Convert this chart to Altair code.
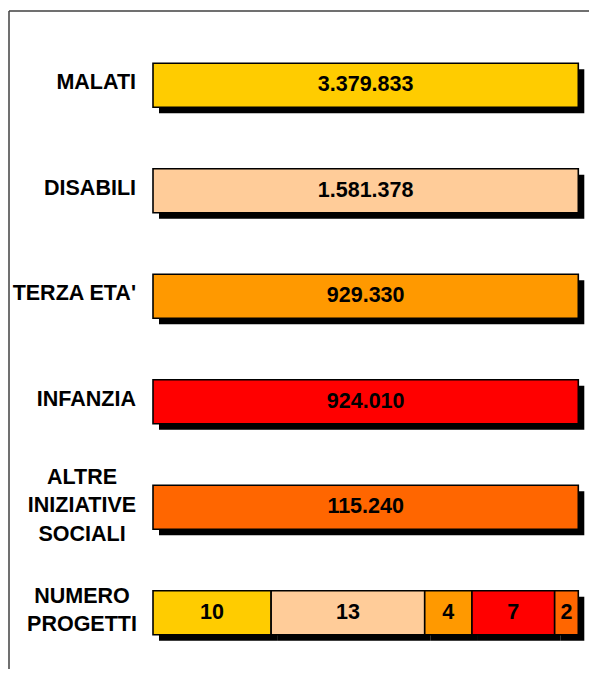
import altair as alt
import pandas as pd

labels = ["MALATI", "DISABILI", "TERZA ETA'", "INFANZIA",
          "ALTRE\nINIZIATIVE\nSOCIALI", "NUMERO\nPROGETTI"]
amounts = [3379833, 1581378, 929330, 924010, 115240]
projects = [10, 13, 4, 7, 2]
colors = ["#FFCC00", "#FFCC99", "#FF9900", "#FF0000", "#FF6600"]


def it_fmt(n):
    return f"{n:,}".replace(",", ".")


recs = []
for lab, amt, col in zip(labels[:5], amounts, colors):
    recs.append(dict(row=lab, start=0.0, end=1.0, color=col, text=it_fmt(amt)))
total = sum(projects)
cum = 0
for n, col in zip(projects, colors):
    recs.append(dict(row=labels[5], start=cum / total, end=(cum + n) / total,
                     color=col, text=str(n)))
    cum += n
bars = pd.DataFrame(recs)
bars["mid"] = (bars["start"] + bars["end"]) / 2

lab_df = pd.DataFrame({"row": labels,
                       "nlines": [l.count("\n") + 1 for l in labels]})

FONT = "Liberation Sans"
FS = 21.5
LH = 28.5

xs = alt.Scale(domain=[0, 1], range=[145, 570.3])
ys = alt.Scale(domain=labels, range=[55.3, 626.8], paddingInner=0.583, paddingOuter=0)

X = alt.X("start:Q", scale=xs, axis=None)
Y = alt.Y("row:N", scale=ys, axis=None, sort=labels)

base = alt.Chart(bars)

shadow = base.mark_bar(color="black", xOffset=6, x2Offset=6, yOffset=6, y2Offset=6).encode(
    x=X, x2="end:Q", y=Y
)
rects = base.mark_bar(stroke="black", strokeWidth=1.6).encode(
    x=X, x2="end:Q", y=Y, color=alt.Color("color:N", scale=None)
)
vals = base.mark_text(fontSize=FS, fontWeight="bold", font=FONT, color="black",
                      baseline="middle", dy=0).encode(
    x=alt.X("mid:Q", scale=xs, axis=None), y=Y, text="text:N"
)

lab_single = alt.Chart(lab_df).transform_filter("datum.nlines == 1").mark_text(
    align="right", baseline="middle", fontSize=FS, fontWeight="bold", font=FONT,
    color="black", dy=-2
).encode(x=alt.value(128), y=Y, text="row:N")

lab_two = alt.Chart(lab_df).transform_filter("datum.nlines == 2").mark_text(
    align="center", baseline="middle", fontSize=FS, fontWeight="bold", font=FONT,
    color="black", lineBreak="\n", lineHeight=LH, dy=-LH / 2 - 2
).encode(x=alt.value(74), y=Y, text="row:N")

lab_three = alt.Chart(lab_df).transform_filter("datum.nlines == 3").mark_text(
    align="center", baseline="middle", fontSize=FS, fontWeight="bold", font=FONT,
    color="black", lineBreak="\n", lineHeight=LH, dy=-LH - 1
).encode(x=alt.value(74), y=Y, text="row:N")

frame_top = alt.Chart(alt.Data(values=[{}])).mark_rule(color="#404040", strokeWidth=1.5).encode(
    x=alt.value(1), x2=alt.value(581), y=alt.value(3)
)
frame_left = alt.Chart(alt.Data(values=[{}])).mark_rule(color="#404040", strokeWidth=1.5).encode(
    x=alt.value(1), y=alt.value(3), y2=alt.value(661)
)

chart = alt.layer(shadow, rects, vals, lab_single, lab_two, lab_three,
                  frame_top, frame_left).properties(
    width=581, height=661, padding=0, autosize=alt.AutoSizeParams(type="none")
).configure_view(stroke=None)

chart.save("out.html", embed_options={"renderer": "svg", "actions": False})
